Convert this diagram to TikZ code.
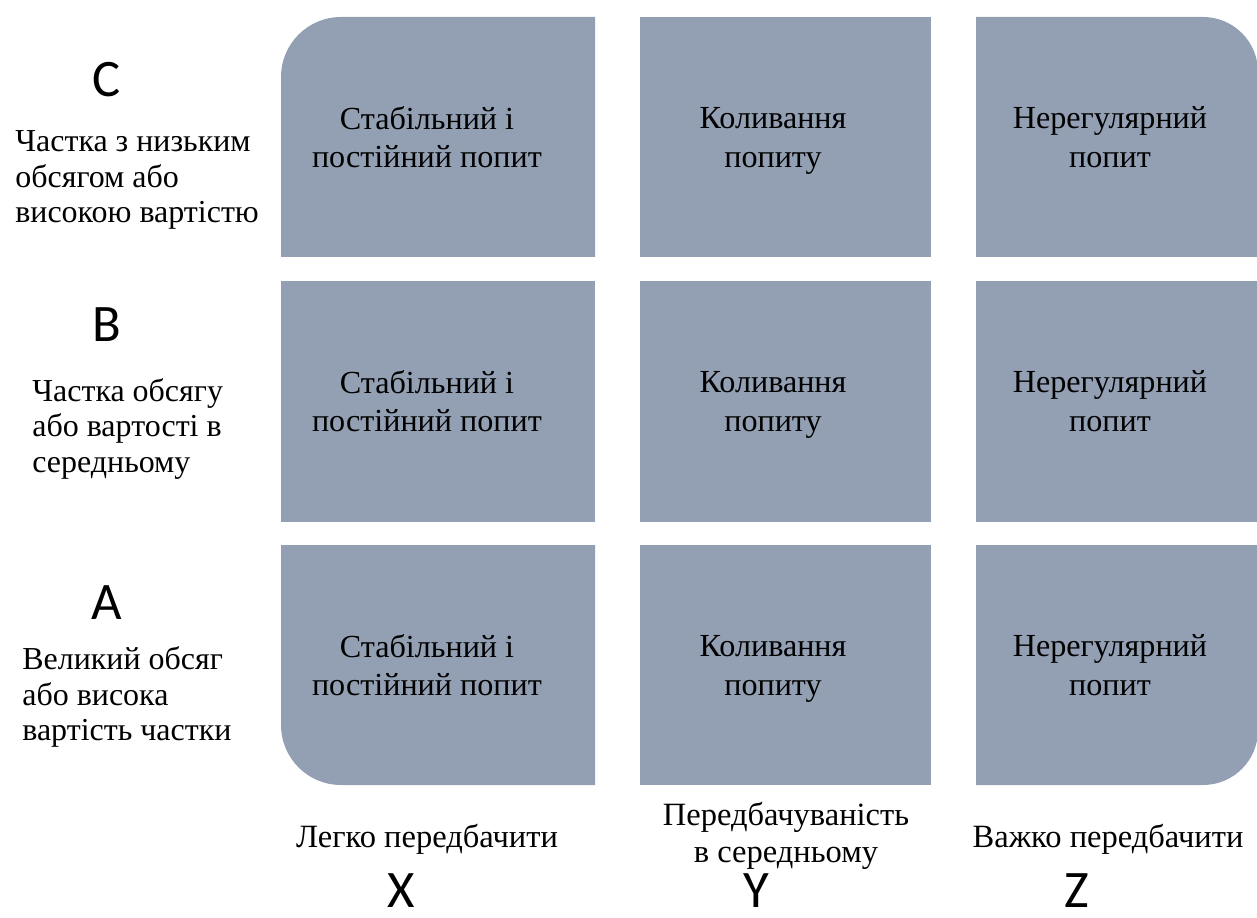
\documentclass[tikz,border=0pt]{standalone}
\usepackage{fontspec}
\setmainfont{Liberation Serif}
\newfontfamily\letterfont{Carlito}
\definecolor{cell_grey}{RGB}{147, 159, 178}
\tikzstyle{cell}=[align=center,inner sep=0pt,
  font=\fontsize{18.3}{22}\selectfont]
\tikzstyle{side}=[align=left,anchor=west,inner sep=0pt,
  font=\fontsize{18.2}{20}\selectfont]
\tikzstyle{axis}=[align=center,inner sep=0pt,
  font=\fontsize{18.5}{21}\selectfont]
\tikzstyle{letter}=[inner sep=0pt,anchor=base,font=\letterfont\fontsize{30}{32}\selectfont]
\tikzstyle{bg}=[fill=cell_grey]

\begin{document}
\begin{tikzpicture}[x=0.02cm, y=-0.02cm]
    \useasboundingbox (0, 0) rectangle (1257, 918);
    % boxes, outer corners rounded
    \fill [style=bg] (281, 257) -- (281, 137) [rounded corners=1.2cm] -- (281, 17) -- (438, 17) [sharp corners] -- (595, 17) -- (595, 257) -- cycle;
    \fill [style=bg] (640, 17) rectangle (931, 257);
    \fill [style=bg] (976, 257) -- (976, 17) -- (1117, 17) [rounded corners=1.1cm] -- (1258, 17) -- (1258, 137) [sharp corners] -- (1258, 257) -- cycle;
    \fill [style=bg] (281, 281) rectangle (595, 522);
    \fill [style=bg] (640, 281) rectangle (931, 522);
    \fill [style=bg] (976, 281) rectangle (1258, 522);
    \fill [style=bg] (595, 545) -- (281, 545) -- (281, 665) [rounded corners=1.2cm] -- (281, 785) -- (438, 785) [sharp corners] -- (595, 785) -- cycle;
    \fill [style=bg] (640, 545) rectangle (931, 785);
    \fill [style=bg] (1117, 785) -- (976, 785) -- (976, 545) -- (1258, 545) -- (1258, 665) [rounded corners=1.1cm] -- (1258, 785) -- cycle;

    \node [style=cell] (0) at (427, 137) {Стабільний і\\постійний попит};
    \node [style=cell] (1) at (773, 141) {Коливання\\попиту};
    \node [style=cell] (2) at (1110, 137) {Нерегулярний\\попит};
    \node [style=cell] (3) at (427, 401) {Стабільний і\\постійний попит};
    \node [style=cell] (4) at (773, 405) {Коливання\\попиту};
    \node [style=cell] (5) at (1110, 401) {Нерегулярний\\попит};
    \node [style=cell] (6) at (427, 665) {Стабільний і\\постійний попит};
    \node [style=cell] (7) at (773, 669) {Коливання\\попиту};
    \node [style=cell] (8) at (1110, 665) {Нерегулярний\\попит};

    \node [style=letter] (9) at (107, 97) {C};
    \node [style=side] (10) at (15, 180) {Частка з низьким\\обсягом або\\високою вартістю};
    \node [style=letter] (11) at (107, 342) {B};
    \node [style=side] (12) at (32, 429) {Частка обсягу\\або вартості в\\середньому};
    \node [style=letter] (13) at (107, 619) {A};
    \node [style=side] (14) at (22, 697) {Великий обсяг\\або висока\\вартість частки};

    \node [style=axis] (15) at (427, 839) {Легко передбачити};
    \node [style=axis] (16) at (786, 836) {Передбачуваність\\в середньому};
    \node [style=axis] (17) at (1108, 839) {Важко передбачити};
    \node [style=letter] (18) at (401, 907) {X};
    \node [style=letter] (19) at (756, 907) {Y};
    \node [style=letter] (20) at (1077, 907) {Z};
\end{tikzpicture}
\end{document}
